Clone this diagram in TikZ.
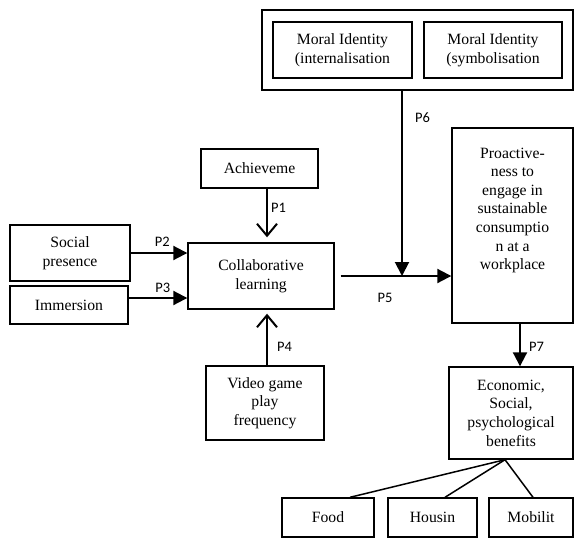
\documentclass[tikz,border=0pt]{standalone}
\usepackage{fontspec}
\setmainfont{Liberation Serif}
\newfontfamily\plabelfont{Carlito}
\usetikzlibrary{arrows.meta,calc}
\tikzset{
  conbox/.style={draw,line width=1.4pt,align=center,inner sep=2pt,font=\fontsize{15.7pt}{18.6pt}\selectfont},
  groupbox/.style={draw,line width=1.4pt},
  plabel/.style={font=\plabelfont\fontsize{14.5pt}{16pt}\selectfont,inner sep=1pt},
  solidarrow/.style={draw,line width=2pt,-{Triangle[length=14pt,width=14pt]}},
  openarrow/.style={draw,line width=2pt,-{Straight Barb[length=12pt,width=20pt]}},
  forkline/.style={draw,line width=1.5pt},
}
\begin{document}
\begin{tikzpicture}[x=1pt,y=-1pt]
\useasboundingbox (0,0) rectangle (575,538);

\node[groupbox,minimum width=311pt,minimum height=80pt] (moral) at (417.5,50) {};
\node[conbox,minimum width=139pt,minimum height=56pt] (miint) at (342.5,50) {Moral Identity\\(internalisation};
\node[conbox,minimum width=138pt,minimum height=56pt] (misym) at (493,50) {Moral Identity\\(symbolisation};
\node[conbox,minimum width=117pt,minimum height=39pt] (achieve) at (259.5,168.5) {Achieveme};
\node[conbox,minimum width=146pt,minimum height=66pt] (collab) at (261,276) {Collaborative\\learning};
\node[conbox,minimum width=120pt,minimum height=56pt] (social) at (70,253) {Social\\presence};
\node[conbox,minimum width=118pt,minimum height=38pt] (immersion) at (69,305) {Immersion};
\node[conbox,minimum width=118pt,minimum height=74pt] (video) at (265,403) {Video game\\play\\frequency};
\node[conbox,minimum width=121pt,minimum height=195pt] (proact) at (512.5,225.5) {Proactive-\\ness to\\engage in\\sustainable\\consumptio\\n at a\\workplace\\[15pt]\mbox{}};
\node[conbox,minimum width=124pt,minimum height=92pt] (econ) at (511,413) {Economic,\\Social,\\psychological\\benefits};
\node[conbox,minimum width=92pt,minimum height=39pt] (food) at (328,517.5) {Food};
\node[conbox,minimum width=89pt,minimum height=39pt] (housing) at (432.5,517.5) {Housin};
\node[conbox,minimum width=84pt,minimum height=39pt] (mobility) at (531,517.5) {Mobilit};

\coordinate (fork) at ($(econ.south)+(-6,0)$);

\path
([xshift=7.5pt]achieve.south) edge[openarrow,shorten >=5pt] node[plabel,right,pos=0.36,xshift=2pt] {P1} ([xshift=6pt]collab.north)
(social.east) edge[solidarrow] node[plabel,above,pos=0.56,yshift=5pt] {P2} (social.east -| collab.west)
($(immersion.east)+(0,-7)$) edge[solidarrow] node[plabel,above,pos=0.58,yshift=3pt] {P3} ($(immersion.east -| collab.west)+(0,-7)$)
([xshift=2pt]video.north) edge[openarrow,shorten >=4pt] node[plabel,right,pos=0.33,xshift=8pt] {P4} ([xshift=6pt]collab.south)
([xshift=6pt]collab.east) edge[solidarrow] node[plabel,below,pos=0.4,yshift=-15pt] {P5} (collab.east -| proact.west)
([xshift=-15.5pt]moral.south) edge[solidarrow] node[plabel,right,pos=0.144,xshift=11pt] {P6} ($(moral.south |- collab.east)+(-15.5,0)$)
([xshift=7.5pt]proact.south) edge[solidarrow] node[plabel,right,pos=0.55,xshift=7pt] {P7} ($(proact.south |- econ.north)+(7.5,0)$);

\path
(fork) edge[forkline] ($(food.north)+(22,0)$)
(fork) edge[forkline] ($(housing.north)+(12.5,0)$)
(fork) edge[forkline] ($(mobility.north)+(2,0)$);

\end{tikzpicture}
\end{document}
